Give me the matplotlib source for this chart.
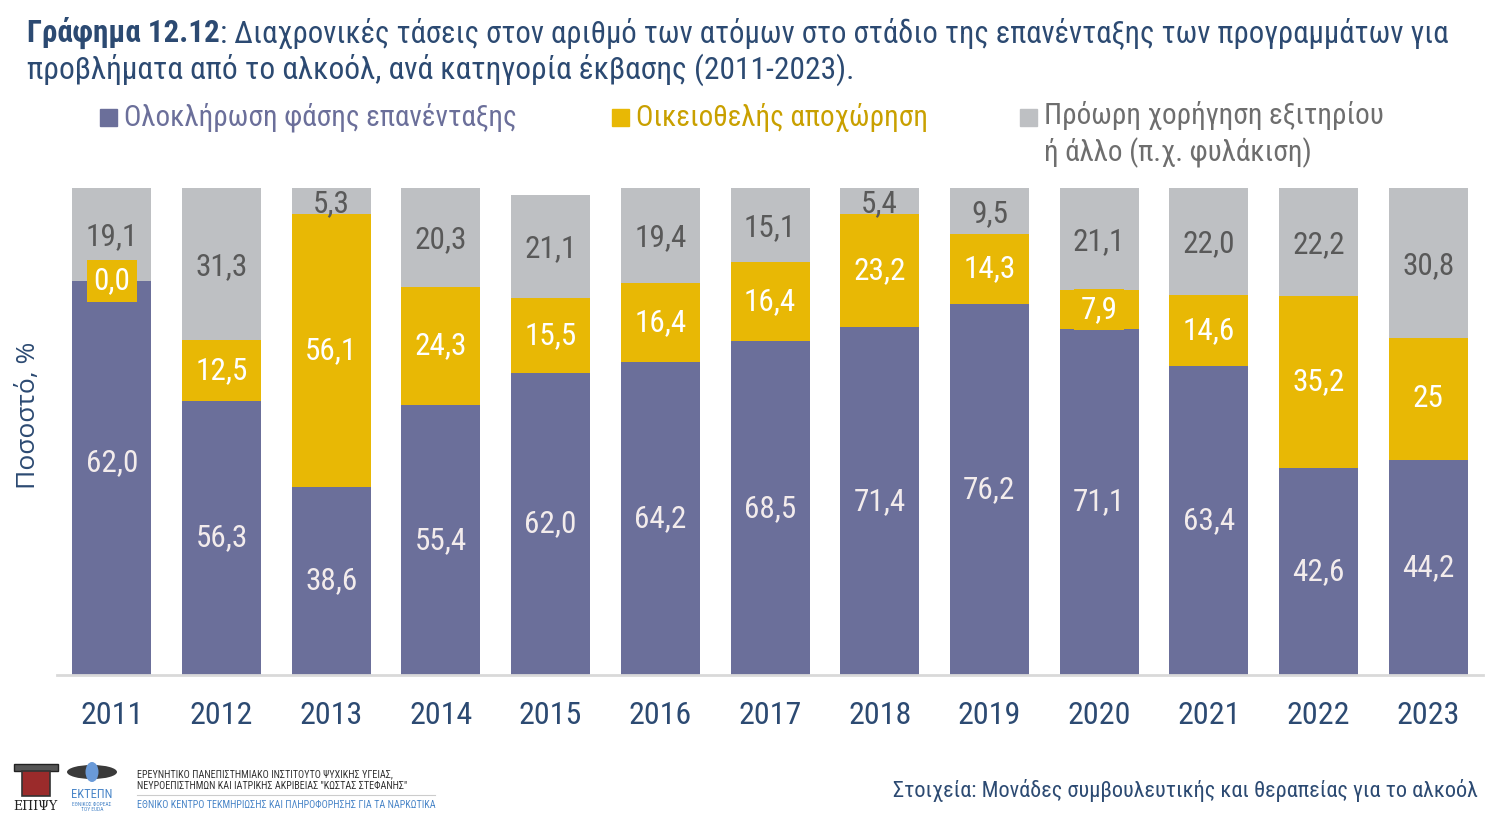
import matplotlib.pyplot as plt
import numpy as np
from matplotlib.patches import Rectangle, Ellipse

plt.rcParams['font.family'] = ['Liberation Sans Narrow', 'Roboto Condensed', 'Roboto', 'DejaVu Sans']

years = ['2011', '2012', '2013', '2014', '2015', '2016', '2017',
         '2018', '2019', '2020', '2021', '2022', '2023']

# bar heights as drawn in the reference (2011 bar is drawn to 100% although labelled 62,0)
completed = [80.9, 56.3, 38.6, 55.4, 62.0, 64.2, 68.5, 71.4, 76.2, 71.1, 63.4, 42.6, 44.2]
voluntary = [0.0, 12.5, 56.1, 24.3, 15.5, 16.4, 16.4, 23.2, 14.3, 7.9, 14.6, 35.2, 25.0]
early = [19.1, 31.3, 5.3, 20.3, 21.1, 19.4, 15.1, 5.4, 9.5, 21.1, 22.0, 22.2, 30.8]

completed_lbl = ['62,0', '56,3', '38,6', '55,4', '62,0', '64,2', '68,5',
                 '71,4', '76,2', '71,1', '63,4', '42,6', '44,2']
voluntary_lbl = ['0,0', '12,5', '56,1', '24,3', '15,5', '16,4', '16,4',
                 '23,2', '14,3', '7,9', '14,6', '35,2', '25']
early_lbl = ['19,1', '31,3', '5,3', '20,3', '21,1', '19,4', '15,1',
             '5,4', '9,5', '21,1', '22,0', '22,2', '30,8']

c_purple = '#6B6F9A'
c_yellow = '#E8B805'
c_gray = '#BEC0C3'
c_title = '#2C4A72'

fig = plt.figure(figsize=(15, 8.19), dpi=100)
ax = fig.add_axes([0.038, 0.1758, 0.9507, 0.5946])

x = np.arange(len(years))
w = 0.72
b1 = np.array(completed)
b2 = b1 + np.array(voluntary)

ax.bar(x, completed, w, color=c_purple)
ax.bar(x, voluntary, w, bottom=b1, color=c_yellow)
ax.bar(x, early, w, bottom=b2, color=c_gray)

lbl_size = 22.5
for i in x:
    # first bar's label sits a bit lower in the original
    yc = completed[i] * (0.54 if i == 0 else 0.5)
    ax.text(i, yc, completed_lbl[i], ha='center', va='center',
            fontsize=lbl_size, color='#F3ECEC')
    if voluntary[i] < 10:
        ax.text(i, b1[i] + voluntary[i] / 2, voluntary_lbl[i], ha='center', va='center',
                fontsize=lbl_size, color='white',
                bbox=dict(boxstyle='square,pad=0.2', fc=c_yellow, ec='none'))
    else:
        ax.text(i, b1[i] + voluntary[i] / 2, voluntary_lbl[i], ha='center', va='center',
                fontsize=lbl_size, color='white')
    ax.text(i, b2[i] + early[i] / 2 - 0.5, early_lbl[i], ha='center', va='center',
            fontsize=lbl_size, color='#595959')

ax.set_xlim(-0.5, 12.5)
ax.set_ylim(0, 100)
ax.set_xticks(x)
ax.set_xticklabels(years, fontsize=23, color=c_title)
ax.tick_params(axis='x', length=0, pad=19)
ax.set_yticks([])
for s in ['top', 'right', 'left']:
    ax.spines[s].set_visible(False)
ax.spines['bottom'].set_color('#D9D9D9')
ax.spines['bottom'].set_linewidth(2)

fig.text(28 / 1500, 1 - 415 / 819, 'Ποσοστό, %', rotation=90, ha='center', va='center',
         fontsize=19, color=c_title, family=['Open Sans', 'DejaVu Sans'])

# title
r = fig.canvas.get_renderer()
t1 = fig.text(27 / 1500, 1 - 33 / 819, 'Γράφημα 12.12', fontsize=22.2, fontweight='bold',
              color=c_title, va='center', ha='left')
bb = t1.get_window_extent(renderer=r)
fig.text(bb.x1 / 1500, 1 - 33 / 819,
         ': Διαχρονικές τάσεις στον αριθμό των ατόμων στο στάδιο της επανένταξης των προγραμμάτων για',
         fontsize=22.1, color=c_title, va='center', ha='left')
fig.text(27 / 1500, 1 - 70 / 819,
         'προβλήματα από το αλκοόλ, ανά κατηγορία έκβασης (2011-2023).',
         fontsize=22.6, color=c_title, va='center', ha='left')

# legend
legend_items = [
    (100, c_purple, '#6B6F9A', 'Ολοκλήρωση φάσης επανένταξης'),
    (612, c_yellow, '#C9A000', 'Οικειοθελής αποχώρηση'),
    (1020, c_gray, '#6E6E6E', 'Πρόωρη χορήγηση εξιτηρίου\nή άλλο (π.χ. φυλάκιση)'),
]
for px, fc, tc, txt in legend_items:
    fig.add_artist(Rectangle((px / 1500, 1 - 126 / 819), 17 / 1500, 17 / 819,
                             transform=fig.transFigure, color=fc))
    if '\n' in txt:
        fig.text((px + 24) / 1500, 1 - 101 / 819, txt, fontsize=21, color=tc,
                 va='top', ha='left', linespacing=1.3)
    else:
        fig.text((px + 24) / 1500, 1 - 117 / 819, txt, fontsize=21, color=tc,
                 va='center', ha='left')

# source
fig.text(1478 / 1500, 1 - 790 / 819,
         'Στοιχεία: Μονάδες συμβουλευτικής και θεραπείας για το αλκοόλ',
         fontsize=16, color=c_title, ha='right', va='center')

# logos (rough)
fig.add_artist(Rectangle((14 / 1500, 1 - 771 / 819), 44 / 1500, 7 / 819,
                         transform=fig.transFigure, fc='#555555', ec='#222222', lw=1))
fig.add_artist(Rectangle((22 / 1500, 1 - 796 / 819), 28 / 1500, 25 / 819,
                         transform=fig.transFigure, fc='#9B2B2B', ec='#333333', lw=1.2))
fig.text(35 / 1500, 1 - 806 / 819, 'ΕΠΙΨΥ', fontsize=9, color='#222222', ha='center',
         va='center', family=['DejaVu Serif'])
fig.add_artist(Ellipse((92 / 1500, 1 - 772 / 819), 50 / 1500, 14 / 819,
                       transform=fig.transFigure, fc='#3A3A3A', ec='none'))
fig.add_artist(Ellipse((92 / 1500, 1 - 772 / 819), 13 / 1500, 20 / 819,
                       transform=fig.transFigure, fc='#6A9AD8', ec='none'))
fig.text(92 / 1500, 1 - 795 / 819, 'ΕΚΤΕΠΝ', fontsize=9, color='#4A86C8', ha='center', va='center')
fig.text(92 / 1500, 1 - 807 / 819, 'ΕΘΝΙΚΟΣ ΦΟΡΕΑΣ\nΤΟΥ EUDA', fontsize=4, color='#4A86C8',
         ha='center', va='center')
fig.text(137 / 1500, 1 - 780 / 819,
         'ΕΡΕΥΝΗΤΙΚΟ ΠΑΝΕΠΙΣΤΗΜΙΑΚΟ ΙΝΣΤΙΤΟΥΤΟ ΨΥΧΙΚΗΣ ΥΓΕΙΑΣ,\n'
         'ΝΕΥΡΟΕΠΙΣΤΗΜΩΝ ΚΑΙ ΙΑΤΡΙΚΗΣ ΑΚΡΙΒΕΙΑΣ "ΚΩΣΤΑΣ ΣΤΕΦΑΝΗΣ"',
         fontsize=7.3, color='#333333', ha='left', va='center', linespacing=1.25)
fig.add_artist(plt.Line2D([137 / 1500, 435 / 1500], [1 - 795 / 819, 1 - 795 / 819],
                          transform=fig.transFigure, color='#CCCCCC', lw=0.8))
fig.text(137 / 1500, 1 - 805 / 819,
         'ΕΘΝΙΚΟ ΚΕΝΤΡΟ ΤΕΚΜΗΡΙΩΣΗΣ ΚΑΙ ΠΛΗΡΟΦΟΡΗΣΗΣ ΓΙΑ ΤΑ ΝΑΡΚΩΤΙΚΑ',
         fontsize=7.3, color='#4A86C8', ha='left', va='center')

fig.savefig('out.png', dpi=100)
